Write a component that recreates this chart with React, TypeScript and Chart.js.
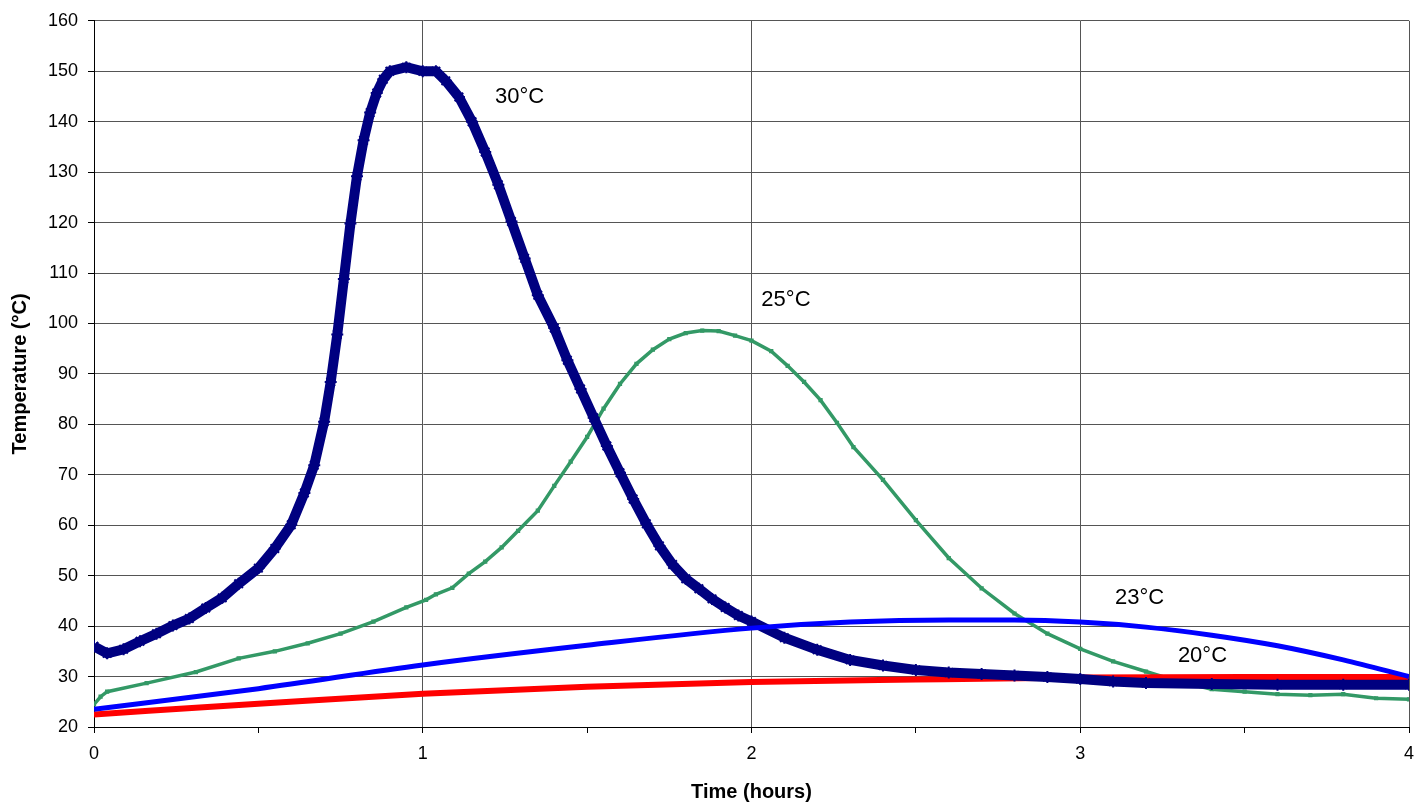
import React, { useEffect, useRef } from "react";
import { Chart, registerables } from "chart.js";

Chart.register(...registerables);

// ---- Data (time in hours, temperature in °C) ----
const hours30 = [0, 0.04, 0.09, 0.14, 0.19, 0.24, 0.29, 0.34, 0.39, 0.44, 0.5, 0.55, 0.6, 0.64, 0.67, 0.7, 0.72, 0.74, 0.76, 0.78, 0.8, 0.82, 0.84, 0.86, 0.88, 0.9, 0.95, 1.0, 1.04, 1.07, 1.11, 1.15, 1.19, 1.23, 1.27, 1.31, 1.35, 1.4, 1.44, 1.48, 1.52, 1.56, 1.6, 1.64, 1.68, 1.72, 1.76, 1.8, 1.84, 1.88, 1.92, 1.96, 2.0, 2.1, 2.2, 2.3, 2.4, 2.5, 2.6, 2.7, 2.8, 2.9, 3.0, 3.1, 3.2, 3.4, 3.6, 3.8, 4.0];
const temp30 = [36, 34.6, 35.4, 37, 38.5, 40.1, 41.5, 43.6, 45.6, 48.4, 51.5, 55.4, 60.1, 66.4, 71.9, 80.5, 88.4, 97.8, 108.8, 119.8, 129.2, 136.3, 141.8, 145.7, 148.4, 150, 150.8, 150, 150, 148.1, 144.9, 140, 134, 127.5, 120.2, 112.9, 105.6, 99.1, 92.7, 87, 81.3, 75.7, 70.4, 65.2, 60.3, 55.9, 52.2, 49.4, 47.4, 45.4, 43.7, 42.1, 40.9, 37.7, 35.3, 33.3, 32.2, 31.3, 30.8, 30.5, 30.2, 29.9, 29.5, 29.0, 28.7, 28.5, 28.4, 28.4, 28.4];

const hours25 = [0, 0.02, 0.04, 0.16, 0.31, 0.44, 0.55, 0.65, 0.75, 0.85, 0.95, 1.01, 1.04, 1.09, 1.14, 1.19, 1.24, 1.29, 1.35, 1.4, 1.45, 1.5, 1.55, 1.6, 1.65, 1.7, 1.75, 1.8, 1.85, 1.9, 1.95, 2.0, 2.06, 2.11, 2.16, 2.21, 2.26, 2.31, 2.4, 2.5, 2.6, 2.7, 2.8, 2.9, 3.0, 3.1, 3.2, 3.3, 3.4, 3.5, 3.6, 3.7, 3.8, 3.9, 4.0];
const temp25 = [24.5, 26, 27, 28.7, 30.9, 33.6, 35, 36.6, 38.5, 40.9, 43.7, 45.2, 46.3, 47.6, 50.4, 52.8, 55.6, 58.9, 62.9, 67.8, 72.6, 77.5, 83.1, 88, 92, 94.8, 96.9, 98.1, 98.6, 98.5, 97.6, 96.6, 94.5, 91.6, 88.4, 84.8, 80.3, 75.5, 69, 61, 53.5, 47.5, 42.5, 38.5, 35.5, 33, 31, 29, 27.5, 27, 26.5, 26.3, 26.5, 25.7, 25.5];

const hours23 = [0, 0.5, 1.0, 1.5, 2.0, 2.3, 2.6, 2.8, 3.0, 3.2, 3.4, 3.6, 3.8, 4.0];
const temp23 = [23.5, 27.6, 32.3, 36.2, 39.6, 40.8, 41.2, 41.2, 40.8, 39.8, 38.2, 36.1, 33.3, 30];

const hours20 = [0, 0.5, 1.0, 1.5, 2.0, 2.5, 3.0, 3.5, 4.0];
const temp20 = [22.5, 24.6, 26.6, 28.0, 28.9, 29.4, 29.8, 29.9, 29.9];

const xTicks = [0, 1, 2, 3, 4];
const labelTexts = ["30°C", "25°C", "23°C", "20°C"];
const labelHours = [1.22, 2.03, 3.106, 3.297];
const labelTemps = [143.7, 103.5, 44.4, 32.9];

const FONT = '"Liberation Sans", Arial, Helvetica, sans-serif';

const toPoints = (xs: number[], ys: number[]) => xs.map((x, i) => ({ x, y: ys[i] }));

const labelPlugin = {
  id: "seriesLabels",
  afterDatasetsDraw(chart: any) {
    const { ctx, scales } = chart;
    const xs = scales.x;
    const ys = scales.y;
    ctx.save();
    ctx.font = `22px ${FONT}`;
    ctx.fillStyle = "#000";
    ctx.textAlign = "left";
    ctx.textBaseline = "alphabetic";
    labelTexts.forEach((t, i) => {
      ctx.fillText(t, xs.getPixelForValue(labelHours[i]), ys.getPixelForValue(labelTemps[i]));
    });
    ctx.restore();
  },
};

export default function App() {
  const canvasRef = useRef<HTMLCanvasElement | null>(null);

  useEffect(() => {
    if (!canvasRef.current) return;
    const chart = new Chart(canvasRef.current, {
      type: "line",
      data: {
        datasets: [
          {
            label: "23°C",
            data: toPoints(hours23, temp23),
            borderColor: "#0000FF",
            borderWidth: 5,
            pointRadius: 0,
            tension: 0.4,
            cubicInterpolationMode: "monotone",
            order: 1,
          },
          {
            label: "30°C",
            data: toPoints(hours30, temp30),
            borderColor: "#000080",
            backgroundColor: "#000080",
            borderWidth: 10,
            pointStyle: "star",
            pointRadius: 6,
            pointBorderWidth: 2,
            pointBorderColor: "#000080",
            tension: 0,
            order: 2,
          },
          {
            label: "20°C",
            data: toPoints(hours20, temp20),
            borderColor: "#FF0000",
            borderWidth: 6,
            pointRadius: 0,
            tension: 0.4,
            cubicInterpolationMode: "monotone",
            order: 3,
          },
          {
            label: "25°C",
            data: toPoints(hours25, temp25),
            borderColor: "#339966",
            backgroundColor: "#339966",
            borderWidth: 3.5,
            pointStyle: "rect",
            pointRadius: 3,
            pointBorderWidth: 0,
            tension: 0,
            order: 4,
          },
        ],
      },
      options: {
        animation: false,
        responsive: false,
        maintainAspectRatio: false,
        layout: { padding: { top: 20, right: 16, left: 0, bottom: 0 } },
        plugins: {
          legend: { display: false },
          tooltip: { enabled: false },
        },
        scales: {
          x: {
            type: "linear",
            min: 0,
            max: 4,
            afterFit: (s: any) => {
              s.height = 81;
            },
            afterBuildTicks: (s: any) => {
              const t: any[] = [];
              for (let v = 0; v <= 4; v += 0.5) t.push({ value: v });
              s.ticks = t;
            },
            ticks: {
              autoSkip: false,
              maxRotation: 0,
              padding: 10,
              color: "#000",
              font: { family: FONT, size: 18 },
              callback: (v: any) => (xTicks.includes(Number(v)) ? String(v) : ""),
            },
            grid: {
              color: (c: any) => (c.tick && Number.isInteger(c.tick.value) ? "#555" : "rgba(0,0,0,0)"),
              tickColor: "#000",
              tickLength: 6,
              lineWidth: 1,
            },
            border: { display: true, color: "#000", width: 1 },
            title: {
              display: true,
              text: "Time (hours)",
              color: "#000",
              font: { family: FONT, size: 20, weight: "bold" },
              padding: { top: 0, bottom: 4 },
            },
          },
          y: {
            type: "linear",
            min: 20,
            max: 160,
            afterFit: (s: any) => {
              s.width = 94;
            },
            ticks: {
              stepSize: 10,
              padding: 10,
              color: "#000",
              font: { family: FONT, size: 18 },
            },
            grid: {
              color: "#555",
              tickColor: "#000",
              tickLength: 6,
              lineWidth: 1,
            },
            border: { display: true, color: "#000", width: 1 },
            title: {
              display: true,
              text: "Temperature (°C)",
              color: "#000",
              font: { family: FONT, size: 20, weight: "bold" },
              padding: { top: 8, bottom: 0 },
            },
          },
        },
      },
      plugins: [labelPlugin],
    } as any);
    return () => chart.destroy();
  }, []);

  return (
    <div style={{ position: "fixed", left: 0, top: 0, width: 1425, height: 808, background: "#fff" }}>
      <canvas ref={canvasRef} width={1425} height={808} style={{ display: "block" }} />
    </div>
  );
}
